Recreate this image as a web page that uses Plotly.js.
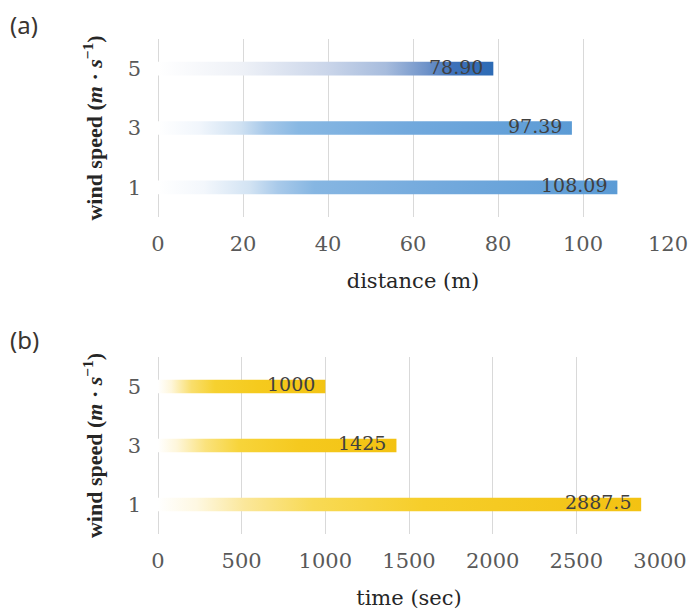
<!DOCTYPE html>
<html>
<head>
<meta charset="utf-8">
<script src="https://cdn.plot.ly/plotly-3.0.1.min.js"></script>
<style>
  html, body { margin: 0; padding: 0; background: #ffffff; }
  #chart { width: 691px; height: 610px; }
</style>
</head>
<body>
<div id="chart"></div>
<script>
// ---- data ----
var windSpeed = ['1', '3', '5'];
var distance = [108.09, 97.39, 78.90];
var distanceLabels = ['108.09', '97.39', '78.90'];
var timeSec = [2887.5, 1425, 1000];
var timeLabels = ['2887.5', '1425', '1000'];
var distanceTicks = [0, 20, 40, 60, 80, 100, 120];
var timeTicks = [0, 500, 1000, 1500, 2000, 2500, 3000];

// ---- styles ----
var tickFont = {family: 'DejaVu Serif', size: 21, color: '#595959'};
var labelFont = {family: 'DejaVu Serif', size: 19, color: '#404040'};
var titleFont = {family: 'DejaVu Serif', size: 21, color: '#262626'};
var yTitleFont = {family: 'Liberation Serif', size: 22, color: '#262626'};
var gridColor = '#D9D9D9';
var yTitleText = '<b>wind speed (<i>m</i> · <i>s</i><sup>−1</sup>)</b>';

// gradient stops per bar (index matches windSpeed order)
var blueStops = [
  [[0, '#FFFFFF'], [0.10, '#F3F7FC'], [0.20, '#D2E3F3'], [0.26, '#A9CAEA'], [0.34, '#86B6E2'], [0.6, '#74AADD'], [1, '#5B9BD5']],
  [[0, '#FFFFFF'], [0.10, '#F1F6FC'], [0.20, '#CFE1F2'], [0.26, '#A6C8E9'], [0.34, '#88B8E3'], [0.6, '#72A9DD'], [1, '#5B9BD5']],
  [[0, '#FFFFFF'], [0.25, '#EEF1F7'], [0.50, '#CBD6EA'], [0.68, '#A7BCDD'], [0.80, '#6F93C9'], [0.88, '#3E72BA'], [1, '#2D6BB5']]
];
var yellowStops = [
  [[0, '#FFFFFF'], [0.08, '#FEF8E2'], [0.18, '#FBE79A'], [0.32, '#F8DA55'], [0.55, '#F6CE2A'], [1, '#F3C212']],
  [[0, '#FFFFFF'], [0.08, '#FEF6DA'], [0.20, '#FAE27C'], [0.34, '#F7D43A'], [0.6, '#F5C91E'], [1, '#F3C212']],
  [[0, '#FFFFFF'], [0.08, '#FEF6DA'], [0.20, '#F9DE6C'], [0.34, '#F6D12F'], [0.6, '#F5CA1D'], [1, '#F3C414']]
];

var traces = [
  {type: 'bar', orientation: 'h', x: distance, y: windSpeed, xaxis: 'x', yaxis: 'y',
   width: 0.23, marker: {color: '#5B9BD5', line: {width: 0}}, hoverinfo: 'none', textposition: 'none'},
  {type: 'bar', orientation: 'h', x: timeSec, y: windSpeed, xaxis: 'x2', yaxis: 'y2',
   width: 0.23, marker: {color: '#F5C518', line: {width: 0}}, hoverinfo: 'none', textposition: 'none'}
];

var annotations = [];
for (var i = 0; i < windSpeed.length; i++) {
  // category axes: annotation y given as the category index
  annotations.push({x: distance[i], y: i, xref: 'x', yref: 'y', text: distanceLabels[i],
    showarrow: false, xanchor: 'right', yanchor: 'middle', xshift: -8, yshift: 2, font: labelFont});
  annotations.push({x: timeSec[i], y: i, xref: 'x2', yref: 'y2', text: timeLabels[i],
    showarrow: false, xanchor: 'right', yanchor: 'middle', xshift: -8, yshift: 2, font: labelFont});
}
annotations.push({x: -0.294, y: 1.03, xref: 'paper', yref: 'paper', text: '(a)', showarrow: false,
  xanchor: 'left', yanchor: 'middle', font: {family: 'Noto Sans', size: 24, color: '#3a3530'}});
annotations.push({x: -0.294, y: 0.392, xref: 'paper', yref: 'paper', text: '(b)', showarrow: false,
  xanchor: 'left', yanchor: 'middle', font: {family: 'Noto Sans', size: 24, color: '#3a3530'}});

function xAxisCfg(range, ticks, title, domain, anchor) {
  return {
    domain: domain, anchor: anchor, range: range, tickmode: 'array', tickvals: ticks,
    ticktext: ticks.map(String), showgrid: true, gridcolor: gridColor, gridwidth: 1,
    zeroline: true, zerolinecolor: gridColor, zerolinewidth: 1, showline: false, ticks: '',
    tickfont: tickFont, ticklabelstandoff: 12, fixedrange: true,
    title: {text: title, font: titleFont, standoff: 18}
  };
}
function yAxisCfg(domain, anchor) {
  return {
    domain: domain, anchor: anchor, type: 'category', range: [-0.5, 2.5], showgrid: false,
    zeroline: false, showline: false, ticks: '', tickfont: tickFont, ticklabelstandoff: 16,
    fixedrange: true, title: {text: yTitleText, font: yTitleFont, standoff: 18}
  };
}

var layout = {
  width: 691, height: 610,
  margin: {l: 158, r: 23, t: 39, b: 76},
  paper_bgcolor: '#ffffff', plot_bgcolor: '#ffffff',
  showlegend: false, barmode: 'overlay',
  xaxis: xAxisCfg([0, 120], distanceTicks, 'distance (m)', [0, 1], 'y'),
  yaxis: yAxisCfg([0.6404, 1], 'x'),
  xaxis2: xAxisCfg([0, 3000], timeTicks, 'time (sec)', [0, 0.9843], 'y2'),
  yaxis2: yAxisCfg([0, 0.3576], 'x2'),
  annotations: annotations
};

function applyGradients(gd) {
  var svgNS = 'http://www.w3.org/2000/svg';
  var svg = gd.querySelector('svg.main-svg');
  var defs = svg.querySelector('defs');
  if (!defs) { defs = document.createElementNS(svgNS, 'defs'); svg.insertBefore(defs, svg.firstChild); }
  var sets = [blueStops, yellowStops];
  var traceGroups = gd.querySelectorAll('.barlayer .trace');
  traceGroups.forEach(function (tg, ti) {
    var paths = tg.querySelectorAll('.point path');
    paths.forEach(function (p, pi) {
      var id = 'grad_' + ti + '_' + pi;
      var lg = document.createElementNS(svgNS, 'linearGradient');
      lg.setAttribute('id', id);
      lg.setAttribute('x1', '0'); lg.setAttribute('y1', '0');
      lg.setAttribute('x2', '1'); lg.setAttribute('y2', '0');
      sets[ti][pi].forEach(function (s) {
        var st = document.createElementNS(svgNS, 'stop');
        st.setAttribute('offset', s[0]);
        st.setAttribute('stop-color', s[1]);
        lg.appendChild(st);
      });
      defs.appendChild(lg);
      p.style.fill = 'url(#' + id + ')';
    });
  });
}

Plotly.newPlot('chart', traces, layout, {staticPlot: true, displayModeBar: false}).then(applyGradients);
</script>
</body>
</html>
